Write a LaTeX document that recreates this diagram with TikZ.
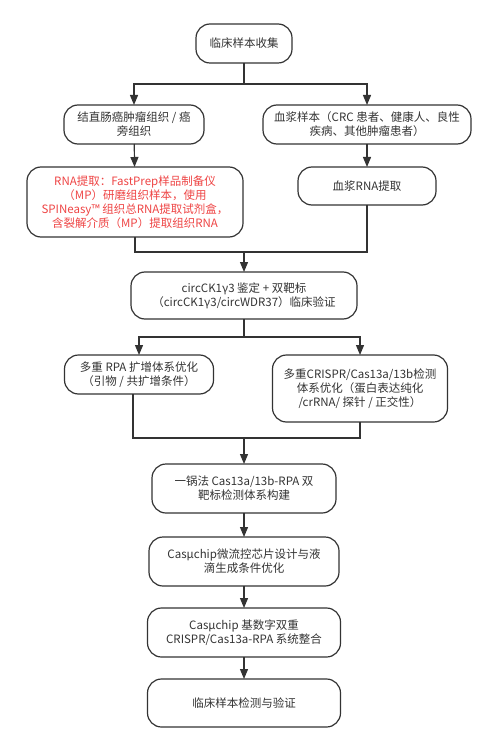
\documentclass[tikz,border=0pt]{standalone}
\usepackage{fontspec}
\setmainfont{Noto Sans CJK SC}
\usepackage{tikz}
\usetikzlibrary{arrows.meta,positioning}
\definecolor{inkgray}{HTML}{333333}
\definecolor{notered}{HTML}{EE4444}
\tikzstyle{flowbox}=[draw=inkgray,line width=1.2pt,rounded corners=14pt,align=center,
  text=inkgray,font=\fontsize{11.5}{14}\selectfont,inner sep=2pt,outer sep=0pt]
\tikzstyle{flowline}=[draw=inkgray,line width=1.2pt]
\tikzstyle{flowarrow}=[flowline,-{Triangle[length=10pt,width=8pt]}]

\begin{document}
\begin{tikzpicture}[x=1pt,y=1pt]
    \useasboundingbox (0,0) rectangle (494,-751);

    \node[flowbox,minimum width=96pt,minimum height=39pt] (collect) at (244,-43.5) {临床样本收集};
    \node[flowbox,minimum width=140pt,minimum height=39pt] (tissue) [below=42pt of collect,xshift=-110pt]
        {结直肠癌肿瘤组织 / 癌\\旁组织};
    \node[flowbox,minimum width=208pt,minimum height=39pt] (plasma) [below=42pt of collect,xshift=123pt]
        {血浆样本（CRC 患者、健康人、良性\\疾病、其他肿瘤患者）};
    \node[flowbox,text=notered,minimum width=216pt,minimum height=70pt] (tissueRNA) [below=23pt of tissue,xshift=1pt]
        {RNA提取：FastPrep样品制备仪\\（MP）研磨组织样本，使用\\SPINeasy™ 组织总RNA提取试剂盒，\\含裂解介质（MP）提取组织RNA};
    \node[flowbox,minimum width=138pt,minimum height=38pt] (plasmaRNA) [below=23pt of plasma] {血浆RNA提取};

    \node[flowbox,minimum width=226pt,minimum height=47pt] (verify) [below=35pt of tissueRNA,xshift=109pt]
        {circCK1γ3 鉴定 + 双靶标\\（circCK1γ3/circWDR37）临床验证};
    \node[flowbox,minimum width=149pt,minimum height=39pt] (rpa) [below=36pt of verify,xshift=-105pt]
        {多重 RPA 扩增体系优化\\（引物 / 共扩增条件）};
    \node[flowbox,minimum width=175pt,minimum height=67pt] (crispr) [below=36pt of verify,xshift=116pt]
        {多重CRISPR/Cas13a/13b检测\\体系优化（蛋白表达纯化\\/crRNA/ 探针 / 正交性）};

    \node[flowbox,minimum width=184pt,minimum height=49pt] (onepot) [below=42pt of crispr,xshift=-116pt]
        {一锅法 Cas13a/13b-RPA 双\\靶标检测体系构建};
    \node[flowbox,minimum width=190pt,minimum height=49pt] (chip) [below=24pt of onepot]
        {Casμchip微流控芯片设计与液\\滴生成条件优化};
    \node[flowbox,minimum width=193pt,minimum height=49pt] (digital) [below=22pt of chip]
        {Casμchip 基数字双重\\CRISPR/Cas13a-RPA 系统整合};
    \node[flowbox,minimum width=193pt,minimum height=48pt] (clinic) [below=22pt of digital] {临床样本检测与验证};

    % forks and joins
    \path (collect.south) ++(0,-21) coordinate (fork1);
    \path (verify.north) ++(0,20) coordinate (join1);
    \path (verify.south) ++(0,-18) coordinate (fork2);
    \path (onepot.north) ++(0,26) coordinate (join2);

    \draw[flowline] (collect) -- (fork1);
    \draw[flowarrow] (fork1) -| (tissue);
    \draw[flowarrow] (fork1) -| (plasma);
    \draw[flowarrow] (tissue) -- (tissueRNA);
    \draw[flowarrow] (plasma) -- (plasmaRNA);

    \draw[flowline] (tissueRNA.south) |- (join1);
    \draw[flowline] (plasmaRNA.south) |- (join1);
    \draw[flowarrow] (join1) -- (verify);

    \draw[flowline] (verify) -- (fork2);
    \draw[flowarrow] (fork2) -| (rpa);
    \draw[flowarrow] (fork2) -| (crispr);

    \draw[flowline] ([xshift=-6pt]rpa.south) |- (join2);
    \draw[flowline] (crispr.south) |- (join2);
    \draw[flowarrow] (join2) -- (onepot);

    \draw[flowarrow] (onepot) -- (chip);
    \draw[flowarrow] (chip) -- (digital);
    \draw[flowarrow] (digital) -- (clinic);
\end{tikzpicture}
\end{document}
